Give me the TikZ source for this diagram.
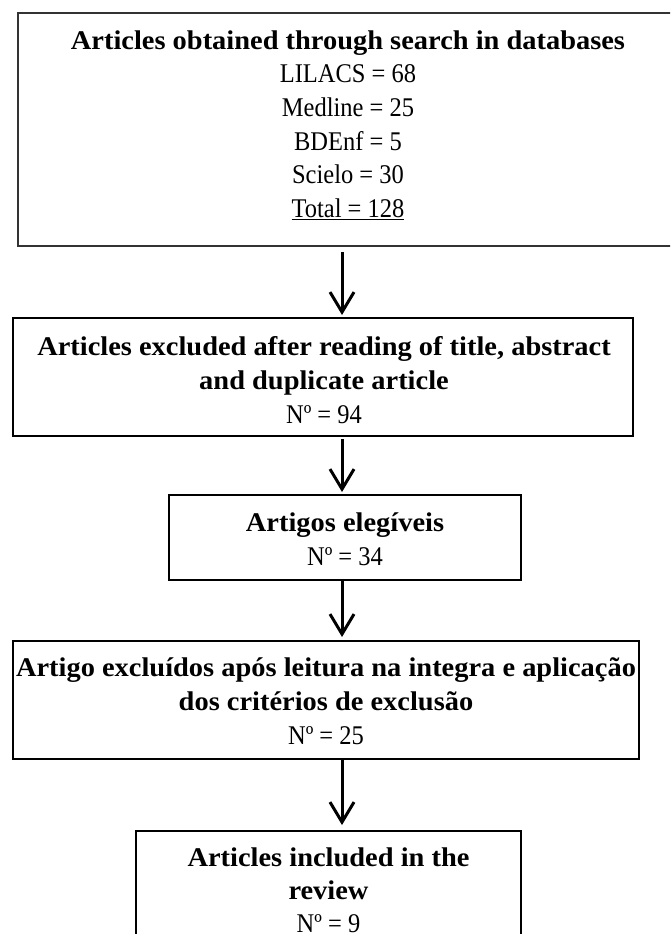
\documentclass[tikz,border=0pt]{standalone}
\usepackage{fontspec}
\setmainfont{Liberation Serif}[UprightFeatures={FakeStretch=0.907}, BoldFeatures={FakeStretch=1.053}]
\usetikzlibrary{arrows.meta}
\begin{document}
\begin{tikzpicture}[x=1pt,y=-1pt,
  box/.style={draw=black, line width=1.4pt, inner sep=0pt, outer sep=0pt, anchor=north west},
  txt/.style={anchor=base, inner sep=0pt, font=\fontsize{27}{34}\selectfont},
  hd/.style={anchor=base, inner sep=0pt, font=\fontsize{27}{34}\selectfont\bfseries},
  arr/.style={line width=3pt, -{Straight Barb[length=20pt,width=24pt]}}]
\clip (0,0) rectangle (670,934);

% boxes
\node[box, draw=black!80, line width=1.8pt, minimum width=660pt, minimum height=233pt] (b1) at (18,13) {};
\node[box, minimum width=620pt, minimum height=118pt] (b2) at (13,318) {};
\node[box, minimum width=352pt, minimum height=85pt]  (b3) at (169,495) {};
\node[box, minimum width=626pt, minimum height=118pt] (b4) at (13,641) {};
\node[box, minimum width=385pt, minimum height=150pt] (b5) at (136,831) {};

% search results
\node[hd]  (t1a) at (348,49)    {Articles obtained through search in databases};
\node[txt] (t1b) at (348,82.6)  {LILACS = 68};
\node[txt] (t1c) at (348,116.3) {Medline = 25};
\node[txt] (t1d) at (348,150)   {BDEnf = 5};
\node[txt] (t1e) at (348,183.7) {Scielo = 30};
\node[txt] (t1f) at (348,217.4) {\underline{Total = 128}};

% first exclusion
\node[hd]  (t2a) at (324,355) {Articles excluded after reading of title, abstract};
\node[hd]  (t2b) at (324,389) {and duplicate article};
\node[txt] (t2c) at (324,423) {Nº = 94};

% eligible
\node[hd]  (t3a) at (345,531) {Artigos elegíveis};
\node[txt] (t3b) at (345,565) {Nº = 34};

% second exclusion
\node[hd]  (t4a) at (326,676) {Artigo excluídos após leitura na integra e aplicação};
\node[hd]  (t4b) at (326,710) {dos critérios de exclusão};
\node[txt] (t4c) at (326,744) {Nº = 25};

% included
\node[hd]  (t5a) at (328.5,866) {Articles included in the};
\node[hd]  (t5b) at (328.5,899) {review};
\node[txt] (t5c) at (328.5,932) {Nº = 9};

% connectors
\coordinate (ax) at (342,0);
\draw[arr, shorten <=6pt, shorten >=3pt] (b1.south -| ax) -- (b2.north -| ax);
\draw[arr, shorten <=3pt, shorten >=3pt] (b2.south -| ax) -- (b3.north -| ax);
\draw[arr, shorten >=4pt] (b3.south -| ax) -- (b4.north -| ax);
\draw[arr, shorten <=1pt, shorten >=6pt] (b4.south -| ax) -- (b5.north -| ax);
\end{tikzpicture}
\end{document}
